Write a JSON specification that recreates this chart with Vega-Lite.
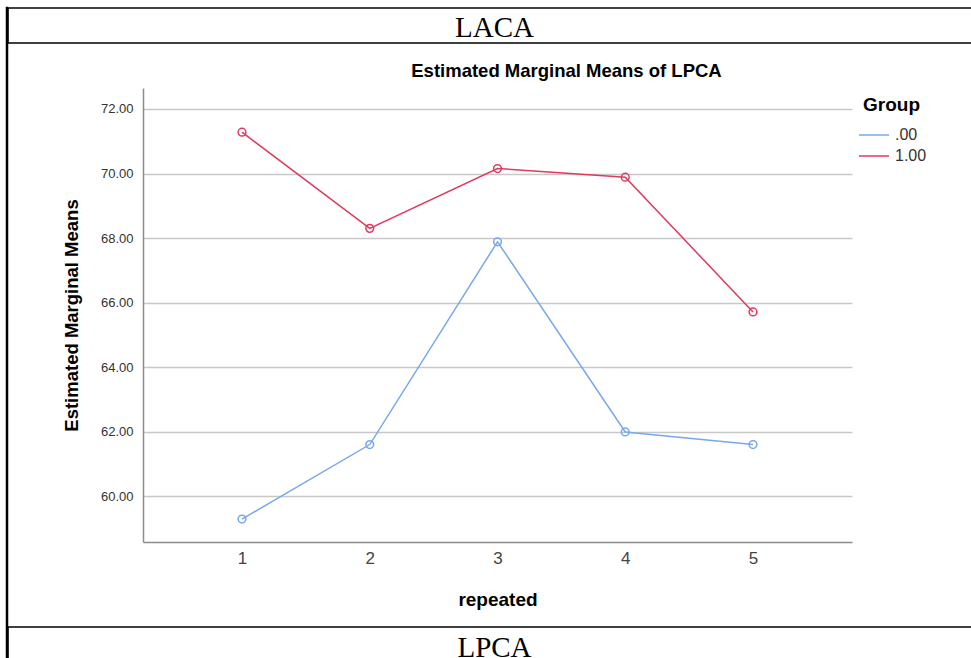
{
  "$schema": "https://vega.github.io/schema/vega-lite/v6.json",
  "padding": {"left": 5, "top": 6, "right": 0, "bottom": 0},
  "config": {"font": "Liberation Sans", "view": {"stroke": null}},
  "spacing": 0,
  "bounds": "flush",
  "resolve": {"scale": {"color": "independent"}, "legend": {"color": "independent"}},
  "hconcat": [
    {
      "width": 0.001,
      "height": 660,
      "view": {"stroke": "black", "strokeWidth": 2.5},
      "data": {"values": [{"label": ""}]},
      "mark": {"type": "text"},
      "encoding": {"text": {"field": "label"}}
    },
    {
      "spacing": 17,
      "resolve": {"scale": {"color": "independent"}, "legend": {"color": "independent"}},
      "vconcat": [
        {
          "width": 965,
          "height": 35,
          "view": {"stroke": "black", "strokeWidth": 1.5},
          "data": {"values": [{"label": "LACA"}]},
          "mark": {"type": "text", "font": "Liberation Serif", "fontSize": 29, "color": "black", "baseline": "middle", "dx": 4, "dy": 2},
          "encoding": {"text": {"field": "label"}}
        },
        {
          "spacing": 53,
          "resolve": {"scale": {"color": "independent"}, "legend": {"color": "independent"}},
          "hconcat": [
            {
              "width": 0.001,
              "height": 10,
              "data": {"values": [{"label": ""}]},
              "mark": {"type": "text"},
              "encoding": {"text": {"field": "label"}}
            },
            {
              "width": 709,
              "height": 454,
              "title": {
                "text": "Estimated Marginal Means of LPCA",
                "frame": "group",
                "anchor": "middle",
                "dx": 69,
                "fontSize": 18.5,
                "fontWeight": "bold",
                "font": "Liberation Sans",
                "color": "black",
                "offset": 8
              },
              "data": {
                "values": [
                  {"repeated": 1, "group": ".00", "mean": 59.29},
                  {"repeated": 2, "group": ".00", "mean": 61.60},
                  {"repeated": 3, "group": ".00", "mean": 67.885},
                  {"repeated": 4, "group": ".00", "mean": 61.99},
                  {"repeated": 5, "group": ".00", "mean": 61.60},
                  {"repeated": 1, "group": "1.00", "mean": 71.28},
                  {"repeated": 2, "group": "1.00", "mean": 68.30},
                  {"repeated": 3, "group": "1.00", "mean": 70.155},
                  {"repeated": 4, "group": "1.00", "mean": 69.885},
                  {"repeated": 5, "group": "1.00", "mean": 65.71}
                ]
              },
              "encoding": {
                "x": {
                  "field": "repeated",
                  "type": "ordinal",
                  "scale": {"type": "point", "padding": 0.775},
                  "axis": {
                    "labelAngle": 0,
                    "ticks": false,
                    "grid": false,
                    "labelFontSize": 17,
                    "labelColor": "#444444",
                    "labelPadding": 8,
                    "domainColor": "#8c8c8c",
                    "domainWidth": 1.5,
                    "title": "repeated",
                    "titleFontSize": 19,
                    "titleFontWeight": "bold",
                    "titleColor": "black",
                    "titlePadding": 24
                  }
                },
                "y": {
                  "field": "mean",
                  "type": "quantitative",
                  "scale": {"domain": [58.58, 72.65], "nice": false, "zero": false},
                  "axis": {
                    "values": [60, 62, 64, 66, 68, 70, 72],
                    "format": ".2f",
                    "ticks": false,
                    "labelFontSize": 13,
                    "labelColor": "#333333",
                    "labelPadding": 10,
                    "domainColor": "#8c8c8c",
                    "domainWidth": 1.5,
                    "gridColor": "#c8c8c8",
                    "gridWidth": 1.5,
                    "title": "Estimated Marginal Means",
                    "titleFontSize": 18.5,
                    "titleFontWeight": "bold",
                    "titleColor": "black",
                    "titlePadding": 19
                  }
                },
                "color": {
                  "field": "group",
                  "type": "nominal",
                  "scale": {"domain": [".00", "1.00"], "range": ["#78a8ec", "#e03a5c"]},
                  "legend": {
                    "title": "Group",
                    "orient": "right",
                    "offset": 3,
                    "padding": 8,
                    "titleFontSize": 19,
                    "titleFontWeight": "bold",
                    "titleColor": "black",
                    "titlePadding": 9,
                    "labelFontSize": 16,
                    "labelColor": "#333333",
                    "labelOffset": 10,
                    "symbolType": "M-1.5,0H1.5",
                    "symbolSize": 400,
                    "symbolStrokeWidth": 1.5,
                    "rowPadding": 2
                  }
                }
              },
              "layer": [
                {"mark": {"type": "line", "strokeWidth": 1.5}},
                {
                  "mark": {"type": "point", "filled": false, "size": 60, "strokeWidth": 1.5, "opacity": 1},
                  "encoding": {"color": {"field": "group", "type": "nominal", "legend": null}}
                }
              ]
            }
          ]
        },
        {
          "width": 965,
          "height": 35,
          "view": {"stroke": "black", "strokeWidth": 1.5},
          "data": {"values": [{"label": "LPCA"}]},
          "mark": {"type": "text", "font": "Liberation Serif", "fontSize": 29, "color": "black", "baseline": "middle", "dx": 4, "dy": 3.5},
          "encoding": {"text": {"field": "label"}}
        }
      ]
    }
  ]
}
